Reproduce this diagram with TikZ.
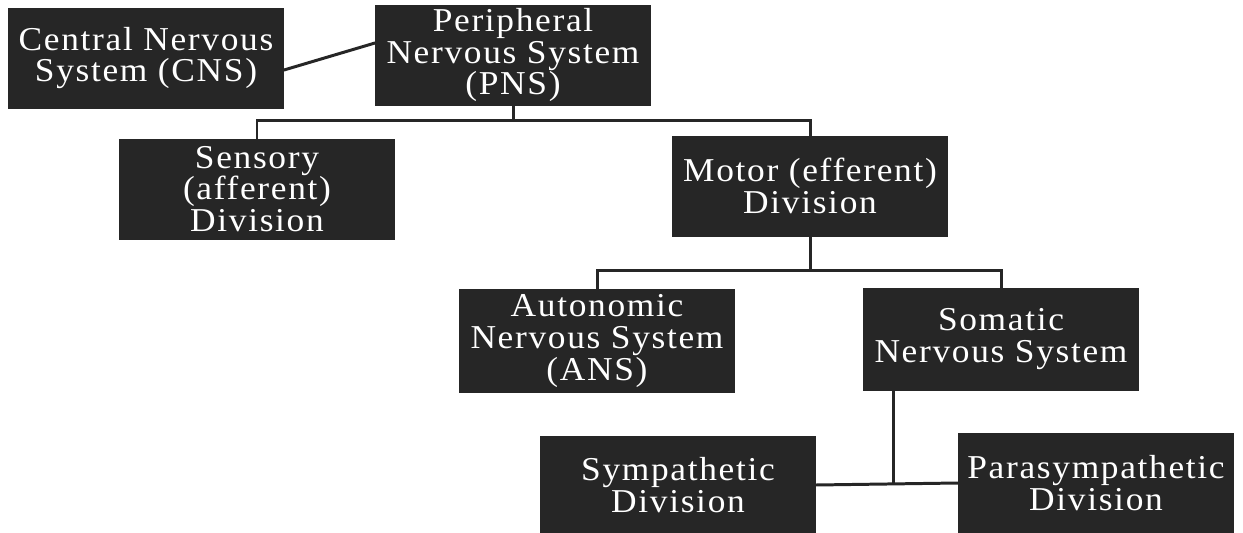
\documentclass[tikz,border=0pt]{standalone}
\usepackage{fontspec}
\setmainfont{Liberation Serif}
\newfontfamily\boxfont[LetterSpace=5, FakeStretch=1.06]{Liberation Serif}
\usepackage{tikz}
\usetikzlibrary{positioning}
\definecolor{boxdark}{RGB}{38, 38, 38}

\begin{document}
\begin{tikzpicture}[x=0.02cm, y=-0.02cm,
   box/.style={draw=boxdark, fill=boxdark, text=white, inner sep=0pt,
               minimum width=5.5cm, minimum height=2cm, align=center,
               font=\boxfont\fontsize{19}{18}\selectfont},
   link/.style={draw=boxdark, line width=1.7pt}]
  \useasboundingbox (0,0) rectangle (1243,533);
  \clip (0,0) rectangle (1243,533);
  \node[box] (cns) at (146,58) {Central Nervous\\System (CNS)};
  \node[box] (pns) at (513,55) {Peripheral\\Nervous System\\(PNS)};
  \node[box] (sens) at (257,189) {Sensory\\(afferent)\\Division};
  \node[box] (mot) at (810,186) {Motor (efferent)\\Division};
  \node[box, minimum height=2.06cm] (ans) at (597,341) {Autonomic\\Nervous System\\(ANS)};
  \node[box, minimum height=2.04cm] (som) at (1001,339) {Somatic\\Nervous System};
  \node[box, minimum height=1.94cm] (symp) at (678,485) {Sympathetic\\Division};
  \node[box] (para) at (1096,483) {Parasympathetic\\Division};
  \coordinate (junc) at (893,485);
  \draw[link] (cns.-5) -- (pns.175);
  \draw[link] (pns.south) -- ++(0,15) -| (sens.north);
  \draw[link] (pns.south) -- ++(0,15) -| (mot.north);
  \draw[link] (mot.south) -- ++(0,34) -| (ans.north);
  \draw[link] (mot.south) -- ++(0,34) -| (som.north);
  \draw[link] (som.south -| junc) -- (junc);
  \draw[link] (symp.east) -- (para.west);
\end{tikzpicture}
\end{document}
